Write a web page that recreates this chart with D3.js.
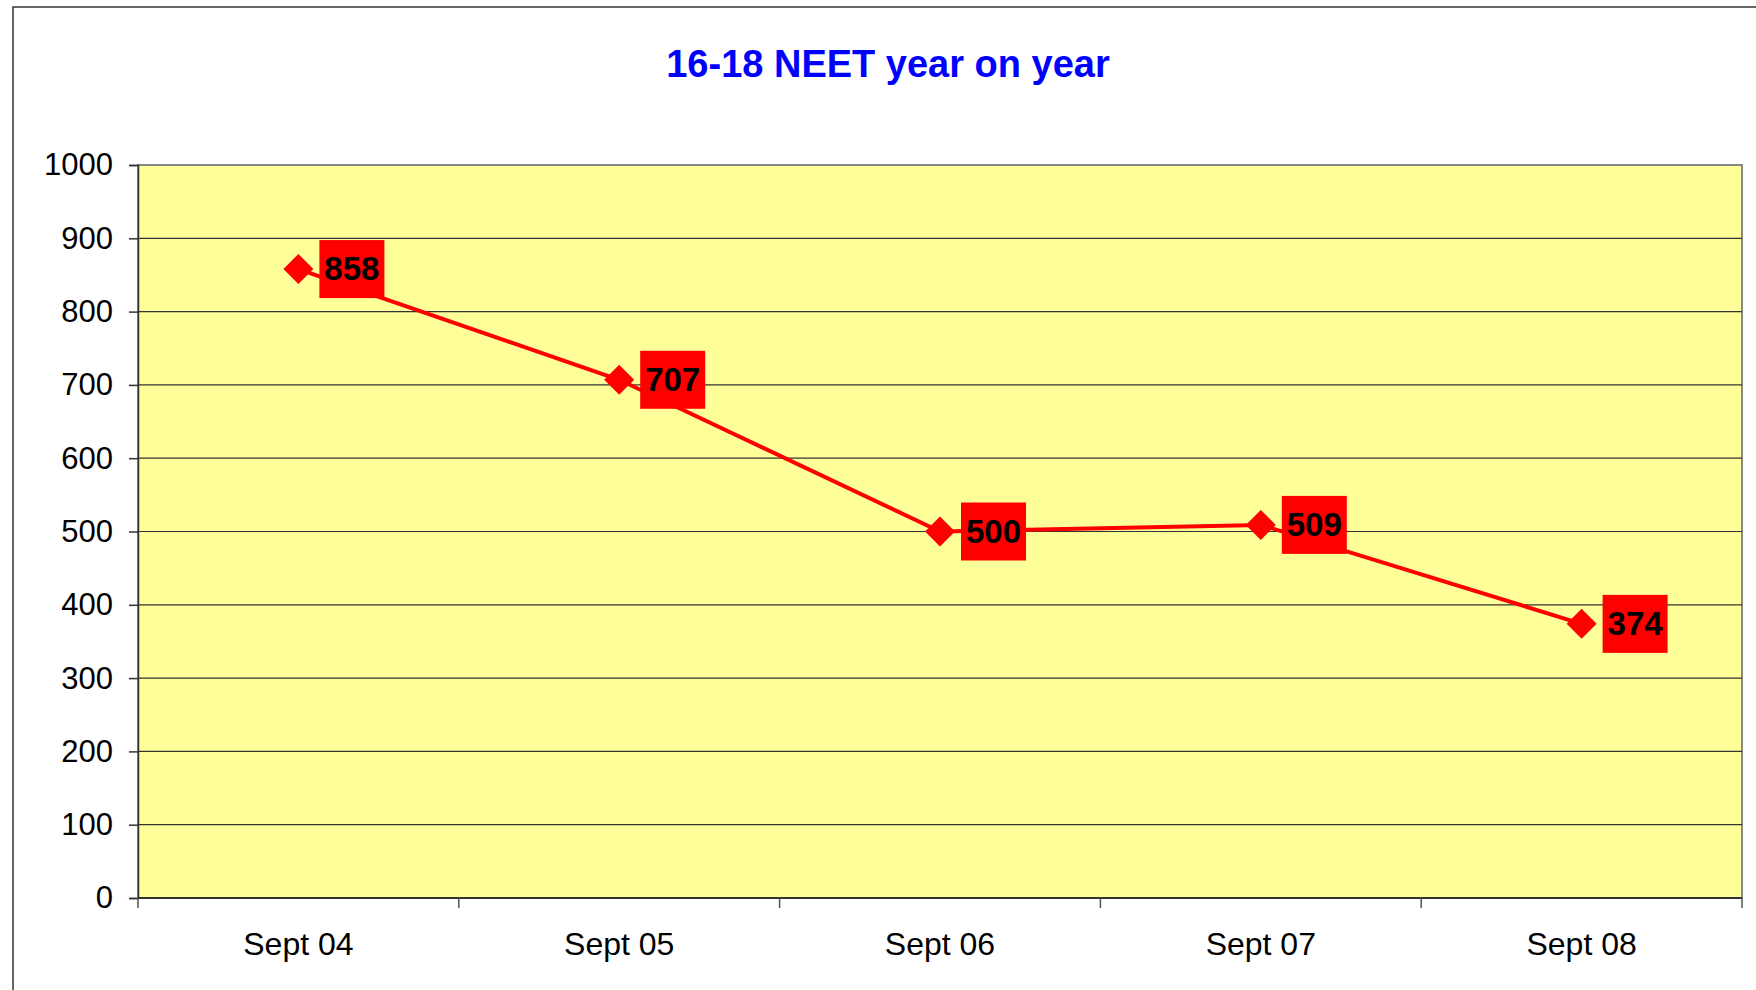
<!DOCTYPE html>
<html>
  <head>
    <script src="https://d3js.org/d3.v7.min.js"></script>
    <title>16-18 NEET year on year</title>
    <style>
      body { margin: 0; background: #fff; }
      text { font-family: Arial, "Liberation Sans", sans-serif; }
    </style>
  </head>
  <body>
  <svg width="1756" height="990"></svg>
  <script>

      var months = ['Sept 04', 'Sept 05', 'Sept 06', 'Sept 07', 'Sept 08'];
      var neet = [858, 707, 500, 509, 374];
      var yTicks = [0, 100, 200, 300, 400, 500, 600, 700, 800, 900, 1000];

      var data = months.map((m, i) => ({month: m, value: neet[i]}));

      var svg = d3.select('svg');
      var w = 1756;
      var h = 990;
      var margin = {
        left: 138,
        right: 14,
        top: 165,
        bottom: 92,
      };
      var innerWidth = w - margin.left - margin.right;
      var innerHeight = h - margin.top - margin.bottom;

      // outer chart frame (runs off right and bottom)
      svg.append('rect')
        .attr('x', 13).attr('y', 7)
        .attr('width', w).attr('height', h)
        .attr('fill', 'none')
        .attr('stroke', '#333')
        .attr('stroke-width', 1.5);

      svg.append('text')
        .attr('x', 888)
        .attr('y', 77)
        .style('text-anchor', 'middle')
        .style('font-weight', 'bold')
        .style('font-size', '38px')
        .attr('fill', '#0000ff')
        .text('16-18 NEET year on year');

      var xScale = d3.scaleBand()
        .domain(months)
        .range([0, innerWidth]);

      var yScale = d3.scaleLinear()
        .domain([0, 1000])
        .range([innerHeight, 0]);

      var g = svg.append('g')
        .attr('transform', `translate (${margin.left}, ${margin.top})`);

      g.append('rect')
        .attr('width', innerWidth)
        .attr('height', innerHeight)
        .attr('fill', '#ffff99')
        .attr('stroke', '#888')
        .attr('stroke-width', 2);

      // gridlines
      g.append('g')
        .selectAll('line')
        .data(yTicks.slice(1, -1))
        .enter().append('line')
        .attr('x1', 0).attr('x2', innerWidth)
        .attr('y1', d => yScale(d)).attr('y2', d => yScale(d))
        .attr('stroke', '#333')
        .attr('stroke-width', 1.2);

      var yAxis = d3.axisLeft(yScale)
        .tickValues(yTicks)
        .tickFormat(d3.format('d'))
        .tickSize(9)
        .tickPadding(16);

      g.append('g')
        .attr('class', 'yAxis')
        .call(yAxis)
        .call(a => a.select('.domain').attr('stroke', '#333').attr('stroke-width', 1.5))
        .call(a => a.selectAll('.tick line').attr('stroke', '#333').attr('stroke-width', 1.5))
        .selectAll('text')
        .style('font-size', '31px')
        .style('font-family', 'Arial, "Liberation Sans", sans-serif')
        .attr('fill', '#000');

      // x axis: ticks on category boundaries, labels centred
      var xAxisG = g.append('g')
        .attr('class', 'xAxis')
        .attr('transform', `translate (0, ${innerHeight})`);

      xAxisG.append('line')
        .attr('x1', 0).attr('x2', innerWidth)
        .attr('stroke', '#333').attr('stroke-width', 2);

      xAxisG.selectAll('.bound')
        .data(months.concat(['end']))
        .enter().append('line')
        .attr('class', 'bound')
        .attr('x1', (d, i) => i * xScale.bandwidth())
        .attr('x2', (d, i) => i * xScale.bandwidth())
        .attr('y1', 0).attr('y2', 10)
        .attr('stroke', '#555').attr('stroke-width', 1.5);

      xAxisG.selectAll('.lbl')
        .data(months)
        .enter().append('text')
        .attr('class', 'lbl')
        .attr('x', d => xScale(d) + xScale.bandwidth() / 2)
        .attr('y', 57)
        .style('text-anchor', 'middle')
        .style('font-size', '32px')
        .text(d => d);

      var cx = d => xScale(d.month) + xScale.bandwidth() / 2;

      var line = d3.line()
        .x(cx)
        .y(d => yScale(d.value));

      g.append('path')
        .datum(data)
        .attr('d', line)
        .attr('fill', 'none')
        .attr('stroke', '#ff0000')
        .attr('stroke-width', 4);

      g.selectAll('.pt')
        .data(data)
        .enter().append('path')
        .attr('class', 'pt')
        .attr('d', d3.symbol().type(d3.symbolSquare).size(450))
        .attr('transform', d => `translate(${cx(d)}, ${yScale(d.value)}) rotate(45)`)
        .attr('fill', '#ff0000');

      var labels = g.selectAll('.lab')
        .data(data)
        .enter().append('g')
        .attr('class', 'lab')
        .attr('transform', d => `translate(${cx(d) + 21}, ${yScale(d.value)})`);

      labels.append('rect')
        .attr('x', 0).attr('y', -29)
        .attr('width', 65).attr('height', 58)
        .attr('fill', '#ff0000');

      labels.append('text')
        .attr('x', 32.5)
        .attr('y', 11)
        .style('text-anchor', 'middle')
        .style('font-weight', 'bold')
        .style('font-size', '33px')
        .attr('fill', '#000')
        .text(d => d.value);

  </script>
  </body>
</html>
